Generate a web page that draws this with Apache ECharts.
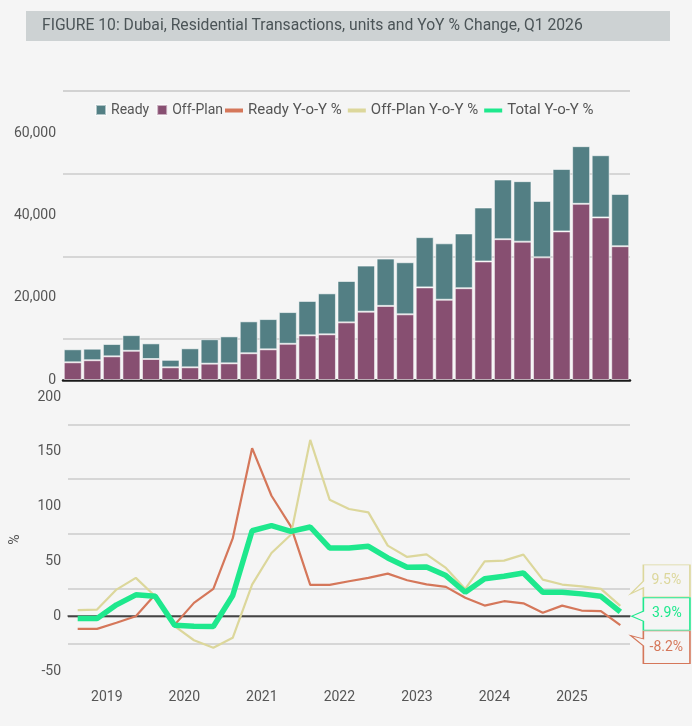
<!DOCTYPE html>
<html>
<head>
<meta charset="utf-8">
<script src="https://cdn.jsdelivr.net/npm/echarts@6/dist/echarts.min.js"></script>
<style>
html, body { margin: 0; padding: 0; background: #f5f5f5; }
#chart { width: 692px; height: 726px; }
</style>
</head>
<body>
<div id="chart"></div>
<script>
// quarters Q1 2019 .. Q1 2026
var quarters = [];
for (var y = 2019; y <= 2026; y++) {
    for (var q = 1; q <= 4; q++) {
        if (y == 2026 && q > 1) break;
        quarters.push(y + ' Q' + q);
    }
}
var offPlanUnits = [4300, 4800, 5750, 7100, 5100, 3080, 3080, 3970, 4050, 6500, 7450, 8800, 10850, 11100, 14000,
    16600, 18000, 15950, 22500, 19500, 22300, 28800, 34200, 33600, 29800, 36100, 42800, 39500, 32500];
var readyUnits = [3160, 2800, 2990, 3800, 3800, 1820, 4620, 5930, 6550, 7750, 7350, 7700, 8350, 9950, 10050,
    11200, 11500, 12650, 12200, 13700, 13300, 13100, 14500, 14700, 13700, 15150, 14000, 15100, 12700];
var readyYoY = [-11.5, -11.5, -6, 0, 19.8, -7.9, 12.2, 24.9, 71, 153.3, 109.9, 82, 28.6, 28.6, 31.9,
    35, 38.9, 32.8, 29, 26.8, 16.8, 9.7, 13.7, 11.8, 3.1, 9.7, 5.2, 4.6, -8.2];
var offPlanYoY = [5.5, 6.1, 24.3, 35, 18.2, -9.1, -21.9, -28.8, -19.7, 28.9, 57.7, 74.4, 160.9, 106.3, 97.8,
    94.7, 64.4, 54.1, 56.5, 44.1, 24.9, 50.1, 50.7, 56.2, 33.4, 28.9, 27.3, 24.9, 9.5];
var totalYoY = [-2.1, -2.1, 10.4, 19.5, 18.2, -8.2, -9.1, -9.4, 18.9, 78, 82.6, 77.4, 81.4, 62.3, 62.3,
    63.8, 53.2, 44.6, 45, 37.1, 21.9, 34.1, 36.4, 39.5, 21.9, 21.9, 20.4, 18.2, 3.9];
var unitGridLines = [10000, 30000, 50000];
var pctGridLines = [175, 125, 75, 25, -25];

var cReady = '#537f84', cOff = '#874f71', cReadyY = '#d5775a', cOffY = '#dcd79b', cTotY = '#1ee88d';
var font = 'Roboto';
var lastIdx = quarters.length - 1;

function callout(val, color, path, size, offset) {
    return {
        silent: true,
        z: 6,
        symbol: path,
        symbolSize: size,
        symbolOffset: offset,
        symbolKeepAspect: false,
        itemStyle: { color: '#f5f5f5', borderColor: color, borderWidth: 1.2 },
        label: {
            show: true, position: 'inside', offset: [6, 0],
            color: color, fontSize: 14, fontFamily: font,
            formatter: function () { return val.toFixed(1) + '%'; }
        },
        data: [{ coord: [quarters[lastIdx], val] }]
    };
}

var myChart = echarts.init(document.getElementById('chart'));
var option = {
    backgroundColor: '#f5f5f5',
    animation: false,
    title: {
        text: 'FIGURE 10: Dubai, Residential Transactions, units and YoY % Change, Q1 2026',
        left: 26, top: 11,
        padding: [7, 14, 7, 16],
        backgroundColor: '#cdd2d3',
        textStyle: { width: 614, fontSize: 15.7, fontWeight: 'normal', color: '#4b5457', fontFamily: font, lineHeight: 16 }
    },
    graphic: [{
        type: 'line', shape: { x1: 63, y1: 91, x2: 630, y2: 91 },
        style: { stroke: '#c6c6c6', lineWidth: 1.5 }
    }],
    legend: [{
        data: ['Ready', 'Off-Plan'],
        left: 95, top: 103, padding: 0, icon: 'rect', itemWidth: 10, itemHeight: 10, itemGap: 7,
        textStyle: { fontSize: 14, color: '#555', fontFamily: font }
    }, {
        data: ['Ready Y-o-Y %', 'Off-Plan Y-o-Y %', 'Total Y-o-Y %'],
        left: 225, top: 103, padding: 0, icon: 'rect', itemWidth: 18, itemHeight: 4, itemGap: 6,
        textStyle: { fontSize: 15, color: '#555', fontFamily: font }
    }],
    grid: [
        { left: 63, right: 62, top: 133, height: 247 },
        { left: 63, right: 62, top: 397, height: 285 }
    ],
    xAxis: [{
        type: 'category', gridIndex: 0, data: quarters,
        axisLine: { lineStyle: { color: '#1a1a1a', width: 2.5 } },
        axisTick: { show: false }, axisLabel: { show: false }
    }, {
        type: 'category', gridIndex: 1, data: quarters,
        axisLine: { lineStyle: { color: '#555', width: 1.5 } },
        axisTick: { show: false },
        axisLabel: {
            interval: function (i) { return i % 4 == 1; },
            formatter: function (v) { return v.slice(0, 4); },
            padding: [0, 0, 0, 19.5],
            margin: 8, fontSize: 14, color: '#555', fontFamily: font
        }
    }],
    yAxis: [{
        type: 'value', gridIndex: 0, min: 0, max: 60000, interval: 20000,
        axisLine: { show: false }, axisTick: { show: false }, splitLine: { show: false },
        axisLabel: {
            margin: 7, fontSize: 14, color: '#555', fontFamily: font,
            formatter: function (v) { return v.toLocaleString('en-US'); }
        }
    }, {
        type: 'value', gridIndex: 1, min: -60, max: 200, interval: 10,
        name: '%', nameLocation: 'middle', nameGap: 46, nameRotate: 90,
        nameTextStyle: { fontSize: 14, color: '#555', fontFamily: font },
        axisLine: { show: false }, axisTick: { show: false }, splitLine: { show: false },
        axisLabel: {
            margin: 7, fontSize: 14, color: '#555', fontFamily: font,
            formatter: function (v) { return v % 50 == 0 ? String(v) : ''; }
        }
    }],
    series: [
        {
            name: 'grid-top', type: 'line', xAxisIndex: 0, yAxisIndex: 0, data: [], z: 0,
            markLine: {
                silent: true, symbol: 'none', label: { show: false }, z: 0,
                lineStyle: { color: '#cbcbcb', width: 1.5, type: 'solid' },
                data: unitGridLines.map(function (v) { return { yAxis: v }; })
            }
        },
        {
            name: 'grid-bottom', type: 'line', xAxisIndex: 1, yAxisIndex: 1, data: [], z: 0,
            markLine: {
                silent: true, symbol: 'none', label: { show: false }, z: 0,
                lineStyle: { color: '#cbcbcb', width: 1.5, type: 'solid' },
                data: pctGridLines.map(function (v) { return { yAxis: v }; })
                    .concat([{ yAxis: 0, lineStyle: { color: '#111', width: 1.3 } }])
            }
        },
        {
            name: 'Off-Plan', type: 'bar', stack: 'units', xAxisIndex: 0, yAxisIndex: 0,
            data: offPlanUnits, barCategoryGap: '8%', z: 2,
            itemStyle: { color: cOff, borderColor: 'rgba(255,255,255,0.55)', borderWidth: 1 }
        },
        {
            name: 'Ready', type: 'bar', stack: 'units', xAxisIndex: 0, yAxisIndex: 0,
            data: readyUnits, barCategoryGap: '8%', z: 2,
            itemStyle: { color: cReady, borderColor: 'rgba(255,255,255,0.55)', borderWidth: 1 }
        },
        {
            name: 'Ready Y-o-Y %', type: 'line', xAxisIndex: 1, yAxisIndex: 1, data: readyYoY,
            symbol: 'none', z: 3, itemStyle: { color: cReadyY }, lineStyle: { color: cReadyY, width: 2.2 },
            markPoint: callout(readyYoY[lastIdx], cReadyY,
                'path://M12.7,0 L59.3,0 L59.3,32.7 L12.7,32.7 L12.7,15 L0,4.7 L12.7,8 Z',
                [59.3, 32.7], [40, 22])
        },
        {
            name: 'Off-Plan Y-o-Y %', type: 'line', xAxisIndex: 1, yAxisIndex: 1, data: offPlanYoY,
            symbol: 'none', z: 3, itemStyle: { color: cOffY }, lineStyle: { color: cOffY, width: 2.2 },
            markPoint: callout(offPlanYoY[lastIdx], cOffY,
                'path://M12.7,0 L59.3,0 L59.3,32 L12.7,32 L12.7,23 L0,29 L12.7,16.3 Z',
                [59.3, 32], [40, -25])
        },
        {
            name: 'Total Y-o-Y %', type: 'line', xAxisIndex: 1, yAxisIndex: 1, data: totalYoY,
            symbol: 'none', z: 4, itemStyle: { color: cTotY }, lineStyle: { color: cTotY, width: 5.5 },
            markPoint: callout(totalYoY[lastIdx], cTotY,
                'path://M11.7,0 L58.3,0 L58.3,32.4 L11.7,32.4 L11.7,23.4 L0,18.4 L11.7,13.4 Z',
                [58.3, 32.4], [40.5, 2])
        }
    ]
};
myChart.setOption(option);
</script>
</body>
</html>
